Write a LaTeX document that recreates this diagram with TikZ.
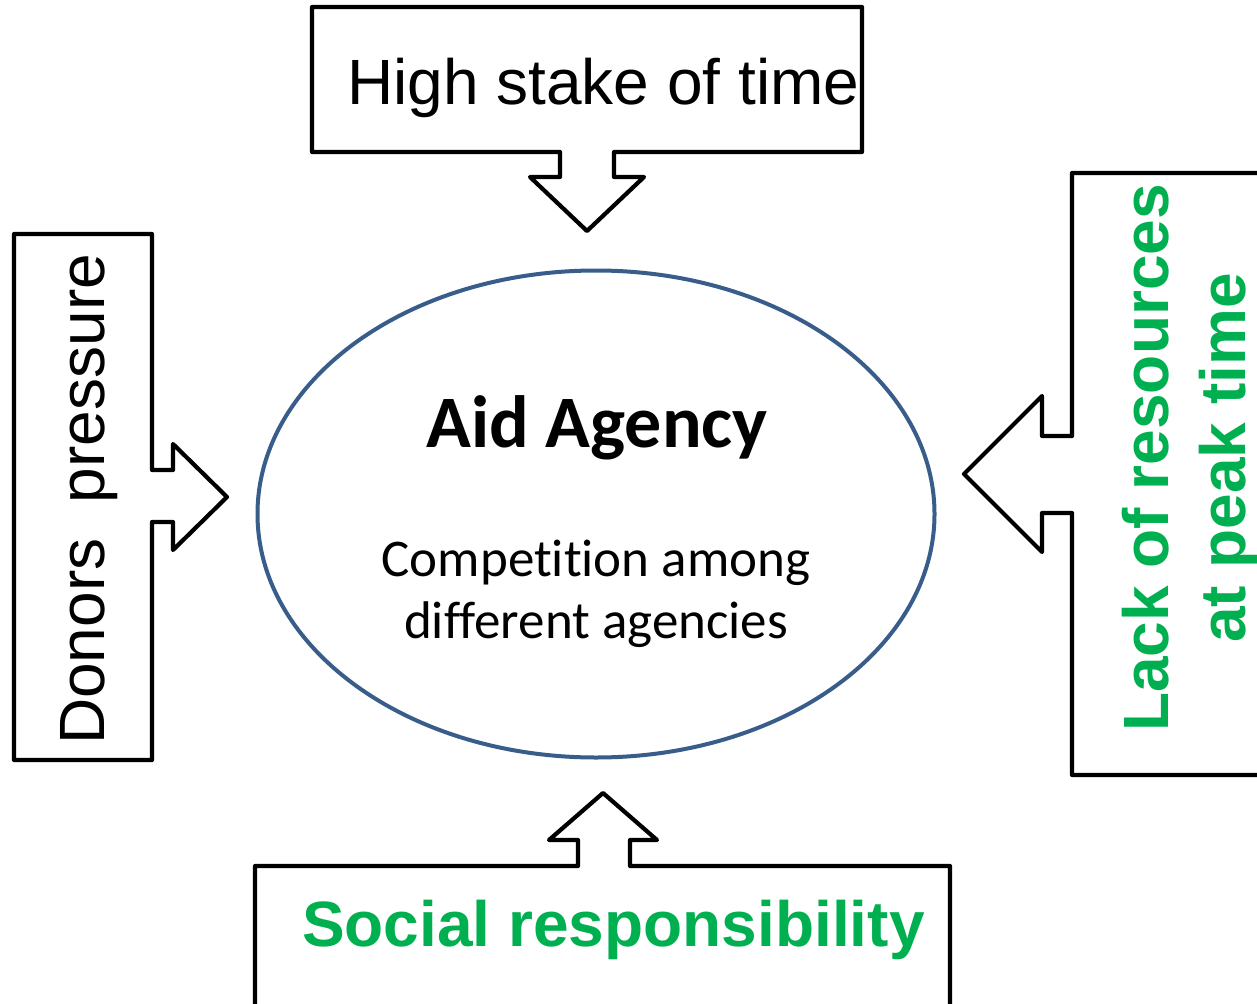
\documentclass[tikz,border=0pt]{standalone}
\usepackage{fontspec}
\setmainfont{Liberation Sans}
\newfontfamily\arialfont{Liberation Sans}
\newfontfamily\calfont[Ligatures={NoCommon}]{Carlito}
\usetikzlibrary{shapes.geometric}
\definecolor{ellblue}{HTML}{385D8A}
\definecolor{offgreen}{HTML}{00B050}
\tikzset{
  callout/.style={draw=black, line width=4.2pt, line join=round, fill=white},
  bigtext/.style={font=\arialfont\fontsize{64}{77}\selectfont, inner sep=0pt},
  bigbold/.style={font=\arialfont\bfseries\fontsize{64}{77}\selectfont, text=offgreen, inner sep=0pt},
}
\begin{document}
\begin{tikzpicture}[x=1pt, y=-1pt]
\useasboundingbox (0,0) rectangle (1257,1003);
\clip (0,0) rectangle (1257,1003);
\fill[white] (0,0) rectangle (1257,1003);

% top callout
\draw[callout] (312,7) -- (862,7) -- (862,152) -- (614,152) -- (614,177) -- (644,177)
  -- (587,231) -- (530,177) -- (560,177) -- (560,152) -- (312,152) -- cycle;
\node[bigtext, anchor=base west] (hst) at (347,105) {High stake of time};

% left callout
\draw[callout] (14,234) -- (152,234) -- (152,470) -- (173,470) -- (173,444)
  -- (227,497) -- (173,550) -- (173,522) -- (152,522) -- (152,760) -- (14,760) -- cycle;
\node[bigtext, rotate=90, anchor=base west] (dp) at (104,745) {Donors\hspace{0.556em}pressure};

% right callout
\draw[callout] (1270,173) -- (1072,173) -- (1072,436) -- (1042,436) -- (1042,396)
  -- (964,474) -- (1042,552) -- (1042,513) -- (1072,513) -- (1072,775) -- (1270,775);
\node[bigbold, rotate=90, anchor=base] (lr1) at (1168,458) {Lack of resources};
\node[bigbold, rotate=90, anchor=base] (lr2) at (1245,458) {at peak time};

% bottom callout
\draw[callout] (255,1015) -- (255,866) -- (578,866) -- (578,840) -- (549,840)
  -- (603,793) -- (657,840) -- (630,840) -- (630,866) -- (950,866) -- (950,1015);
\node[bigbold, anchor=base west] (sr) at (302,946) {Social responsibility};

% central ellipse
\node[draw=ellblue, line width=4pt, ellipse, inner sep=0pt,
      minimum width=677pt, minimum height=487pt] (agency) at (596,514) {};
\node[font=\calfont\bfseries\fontsize{74}{88}\selectfont, inner sep=0pt, anchor=base] (aid) at (597,447) {Aid Agency};
\node[font=\calfont\fontsize{53}{62}\selectfont, inner sep=0pt, anchor=base] (comp1) at (596,576) {Competition among};
\node[font=\calfont\fontsize{53}{62}\selectfont, inner sep=0pt, anchor=base] (comp2) at (596,638) {different agencies};
\end{tikzpicture}
\end{document}
